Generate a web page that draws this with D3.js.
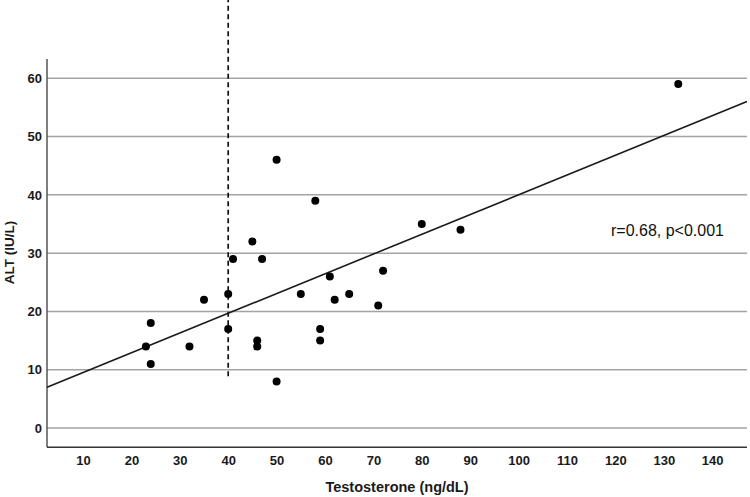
<!DOCTYPE html>
<html>
<head>
<meta charset="utf-8">
<script src="https://cdn.jsdelivr.net/npm/d3@7"></script>
<style>
  html, body { margin: 0; padding: 0; background: #fff; }
  svg { display: block; }
</style>
</head>
<body>
<div id="chart"></div>
<script>
// ---- Data ----
const testosterone = [23, 24, 24, 32, 35, 40, 40, 41, 45, 46, 46, 47, 50, 50, 55, 58, 59, 59, 61, 62, 65, 71, 72, 80, 88, 133];
const alt          = [14, 18, 11, 14, 22, 23, 17, 29, 32, 15, 14, 29, 46,  8, 23, 39, 17, 15, 26, 22, 23, 21, 27, 35, 34, 59];
const xTicks = [10, 20, 30, 40, 50, 60, 70, 80, 90, 100, 110, 120, 130, 140];
const yTicks = [0, 10, 20, 30, 40, 50, 60];
const fitX = [2.56, 147.2];
const fitY = [7.0, 56.0];
const cutoffX = [40, 40];
const cutoffY = [8.9, 73.4];
const annotation = "r=0.68, p<0.001";
const xTitle = "Testosterone (ng/dL)";
const yTitle = "ALT (IU/L)";

// ---- Layout ----
const W = 750, H = 497;
const mLeft = 47, mRight = 747, mTop = 59, mBottom = 447.3;

const svg = d3.select("#chart").append("svg")
  .attr("width", W).attr("height", H);

const x = d3.scaleLinear().domain([2.56, 147.2]).range([mLeft, mRight]);
const y = d3.scaleLinear().domain([-3.3, 63.3]).range([mBottom, mTop]);

const font = "'Liberation Sans', Arial, Helvetica, sans-serif";

// gridlines
svg.append("g").selectAll("line").data(yTicks).join("line")
  .attr("x1", mLeft).attr("x2", mRight)
  .attr("y1", d => y(d)).attr("y2", d => y(d))
  .attr("stroke", "#a3a3a3").attr("stroke-width", 1.5);

// y axis
const yAxis = svg.append("g").attr("transform", `translate(${mLeft},0)`)
  .call(d3.axisLeft(y).tickValues(yTicks).tickSize(0).tickPadding(5));
yAxis.select(".domain").attr("stroke", "#555").attr("stroke-width", 1.5)
  .attr("d", `M0,${mTop}V${mBottom}`);
yAxis.selectAll("text").attr("font-family", font).attr("font-weight", "bold")
  .attr("font-size", 13).attr("fill", "#1a1a1a");

// x axis
const xAxis = svg.append("g").attr("transform", `translate(0,${mBottom})`)
  .call(d3.axisBottom(x).tickValues(xTicks).tickSize(0).tickPadding(8));
xAxis.select(".domain").attr("stroke", "#333").attr("stroke-width", 1.5)
  .attr("d", `M${mLeft},0H${mRight}`);
xAxis.selectAll("text").attr("font-family", font).attr("font-weight", "bold")
  .attr("font-size", 13).attr("fill", "#1a1a1a");

// cutoff dashed line
svg.append("line")
  .attr("x1", x(cutoffX[0])).attr("x2", x(cutoffX[1]))
  .attr("y1", y(cutoffY[0])).attr("y2", y(cutoffY[1]))
  .attr("stroke", "#111").attr("stroke-width", 1.7)
  .attr("stroke-dasharray", "5,3.5");

// regression line
svg.append("line")
  .attr("x1", x(fitX[0])).attr("x2", x(fitX[1]))
  .attr("y1", y(fitY[0])).attr("y2", y(fitY[1]))
  .attr("stroke", "#1a1a1a").attr("stroke-width", 1.6);

// points
svg.append("g").selectAll("circle").data(testosterone).join("circle")
  .attr("cx", d => x(d))
  .attr("cy", (d, i) => y(alt[i]))
  .attr("r", 4)
  .attr("fill", "#000");

// annotation
svg.append("text")
  .attr("x", 611).attr("y", 236)
  .attr("font-family", font).attr("font-size", 16).attr("fill", "#111")
  .text(annotation);

// axis titles
svg.append("text")
  .attr("x", (mLeft + mRight) / 2).attr("y", 492)
  .attr("text-anchor", "middle")
  .attr("font-family", font).attr("font-weight", "bold").attr("font-size", 14.5).attr("fill", "#1a1a1a")
  .text(xTitle);

svg.append("text")
  .attr("transform", `translate(13.5,252.5) rotate(-90)`)
  .attr("text-anchor", "middle")
  .attr("font-family", font).attr("font-weight", "bold").attr("font-size", 13.5).attr("fill", "#1a1a1a")
  .text(yTitle);
</script>
</body>
</html>
